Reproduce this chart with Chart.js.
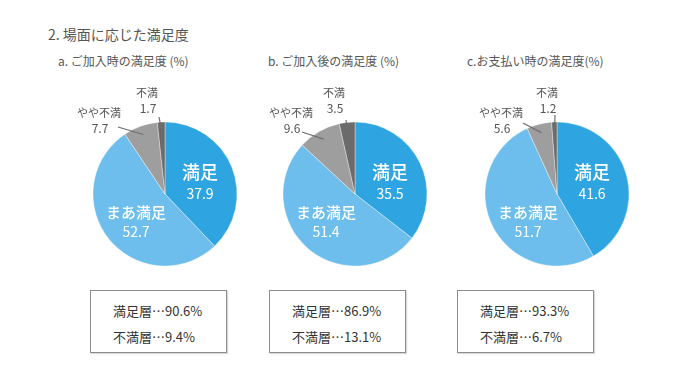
<!DOCTYPE html>
<html lang="ja">
<head>
<meta charset="utf-8">
<script src="https://cdn.jsdelivr.net/npm/chart.js@4"></script>
<style>
  html, body { margin: 0; padding: 0; background: #fff; }
  body { width: 681px; height: 378px; position: relative; overflow: hidden;
         font-family: "Noto Sans CJK JP", "Noto Sans", sans-serif; color: #555; }
  .title { position: absolute; left: 48px; top: 24px; font-size: 14px; }
  .sub { position: absolute; top: 52px; font-size: 12px; }
  .pie { position: absolute; top: 66px; width: 200px; height: 210px; }
  .box { position: absolute; top: 290px; width: 135px; height: 61px; border: 1px solid #8c8c8c;
         box-shadow: 1px 1px 1px rgba(0,0,0,0.15); font-size: 13px; color: #333; }
  .box div { position: absolute; left: 22px; }
</style>
</head>
<body>
<div class="title">2. 場面に応じた満足度</div>
<div class="sub" style="left:58px">a. ご加入時の満足度 (%)</div>
<div class="sub" style="left:268px">b. ご加入後の満足度 (%)</div>
<div class="sub" style="left:467px">c.お支払い時の満足度(%)</div>

<canvas id="pieA" class="pie" width="200" height="210" style="left:65px"></canvas>
<canvas id="pieB" class="pie" width="200" height="210" style="left:255px"></canvas>
<canvas id="pieC" class="pie" width="200" height="210" style="left:457px"></canvas>

<div class="box" id="boxA" style="left:90px"></div>
<div class="box" id="boxB" style="left:269px"></div>
<div class="box" id="boxC" style="left:457px"></div>

<script>
// データ
const categories = ['満足', 'まあ満足', 'やや不満', '不満'];
const valuesA = [37.9, 52.7, 7.7, 1.7];
const valuesB = [35.5, 51.4, 9.6, 3.5];
const valuesC = [41.6, 51.7, 5.6, 1.2];

const summaryLabels = ['満足層', '不満層'];
const summaryA = ['90.6', '9.4'];
const summaryB = ['86.9', '13.1'];
const summaryC = ['93.3', '6.7'];

const sliceColors = ['#2ea5e0', '#6dbeec', '#9e9e9e', '#6b6b6b'];

// ラベル位置 (円の中心からのずれ)
const insideLabels = {
    0: { dx: 35, dy: -11, nameSize: 18, valueSize: 14, gap: 11 },
    1: { dx: -29, dy: 28, nameSize: 15, valueSize: 14, gap: 9.5 }
};
const outsideA = { 2: { label: [-66, -81], line: [-47, -67] }, 3: { label: [-18, -101], line: [-6, -77] } };
const outsideB = { 2: { label: [-64, -81], line: [-53, -62] }, 3: { label: [-21, -101], line: [-9, -74] } };
const outsideC = { 2: { label: [-56, -81], line: [-34, -71] }, 3: { label: [-10, -101], line: [-2, -79] } };

const FONT = '"Noto Sans CJK JP", "Noto Sans", sans-serif';

const labelPlugin = {
    id: 'pieLabels',
    afterDatasetsDraw(chart, args, opts) {
        const ctx = chart.ctx;
        const meta = chart.getDatasetMeta(0);
        const values = chart.data.datasets[0].data;
        ctx.save();
        ctx.textAlign = 'center';
        ctx.textBaseline = 'middle';
        meta.data.forEach((arc, i) => {
            const cx = arc.x, cy = arc.y;
            const name = chart.data.labels[i];
            const val = values[i].toFixed(1);
            if (insideLabels[i]) {
                const l = insideLabels[i];
                ctx.fillStyle = '#ffffff';
                ctx.font = '500 ' + l.nameSize + 'px ' + FONT;
                ctx.fillText(name, cx + l.dx, cy + l.dy - l.gap);
                ctx.font = l.valueSize + 'px ' + FONT;
                ctx.fillText(val, cx + l.dx, cy + l.dy + l.gap);
            } else if (opts.outside[i]) {
                const o = opts.outside[i];
                const mid = (arc.startAngle + arc.endAngle) / 2;
                const r = arc.outerRadius * 0.88;
                ctx.strokeStyle = '#6e6e6e';
                ctx.lineWidth = 1.2;
                ctx.beginPath();
                ctx.moveTo(cx + o.line[0], cy + o.line[1]);
                ctx.lineTo(cx + Math.cos(mid) * r, cy + Math.sin(mid) * r);
                ctx.stroke();
                ctx.fillStyle = '#555';
                ctx.font = '11px ' + FONT;
                ctx.fillText(name, cx + o.label[0], cy + o.label[1]);
                ctx.font = '12px ' + FONT;
                ctx.fillText(val, cx + o.label[0] + 1, cy + o.label[1] + 15);
            }
        });
        ctx.restore();
    }
};

function makePie(id, values, outside) {
    new Chart(document.getElementById(id), {
        type: 'pie',
        data: {
            labels: categories,
            datasets: [{
                data: values,
                backgroundColor: sliceColors,
                borderWidth: 0.6,
                borderColor: 'rgba(255,255,255,0.6)',
                radius: 72,
                hoverOffset: 0
            }]
        },
        options: {
            responsive: false,
            animation: false,
            layout: { padding: { top: 56, bottom: 10, left: 28, right: 28 } },
            plugins: {
                legend: { display: false },
                tooltip: { enabled: false },
                pieLabels: { outside: outside }
            }
        },
        plugins: [labelPlugin]
    });
}

function makeBox(id, values) {
    const box = document.getElementById(id);
    summaryLabels.forEach((lab, i) => {
        const d = document.createElement('div');
        d.textContent = lab + '\u22EF' + values[i] + '%';
        d.style.top = (i === 0 ? 10 : 36) + 'px';
        box.appendChild(d);
    });
}

document.fonts.load('14px "Noto Sans CJK JP"').then(() => {
    makePie('pieA', valuesA, outsideA);
    makePie('pieB', valuesB, outsideB);
    makePie('pieC', valuesC, outsideC);
});
makeBox('boxA', summaryA);
makeBox('boxB', summaryB);
makeBox('boxC', summaryC);
</script>
</body>
</html>
